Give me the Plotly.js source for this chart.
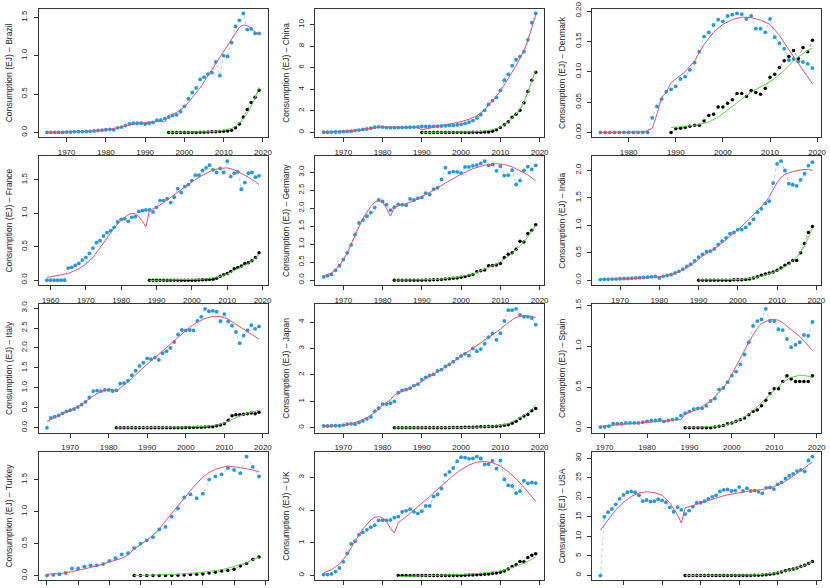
<!DOCTYPE html>
<html>
<head>
<meta charset="utf-8">
<script src="https://cdn.plot.ly/plotly-3.0.1.min.js"></script>
<style>
  html, body { margin: 0; padding: 0; background: #fff; }
  #myGraph { width: 830px; height: 588px; }
</style>
</head>
<body>
<div id="myGraph"></div>
<script>
// ---- data (EJ) ----
const countries = ["Brazil", "China", "Denmark", "France", "Germany", "India",
                   "Italy", "Japan", "Spain", "Turkey", "UK", "USA"];

// Brazil
const brazilBlueStart = 1965;
const brazilBlue = [0,0,0,0,0,0.005,0.005,0.008,0.01,0.01,
  0.012,0.015,0.02,0.025,0.03,0.035,0.04,0.035,0.06,0.07,
  0.09,0.11,0.12,0.12,0.12,0.11,0.12,0.13,0.16,0.16,
  0.18,0.20,0.22,0.23,0.27,0.34,0.44,0.52,0.58,0.69,
  0.72,0.76,0.78,0.92,0.74,1.00,0.99,1.17,1.38,1.46,
  1.55,1.34,1.35,1.29,1.29];
const brazilBlackStart = 1996;
const brazilBlack = [0,0,0,0,0,0,0,0,0.002,0.003,
  0.005,0.008,0.01,0.012,0.015,0.02,0.03,0.06,0.11,0.20,
  0.30,0.39,0.46,0.55];
const brazilRedYears = [1965,1970,1975,1978,1980,1982,1984,1986,1988,1990,1992,1995,1996,1998,2000,2002,2004,2006,2008,2010,2012,2013,2014,2015,2016,2017,2018,2019];
const brazilRed = [0,0.004,0.01,0.02,0.035,0.05,0.07,0.1,0.12,0.13,0.14,0.14,0.22,0.26,0.33,0.45,0.58,0.74,0.9,1.05,1.21,1.3,1.37,1.4,1.39,1.36,1.31,1.28];
const brazilGreenYears = [1996,2000,2004,2007,2009,2011,2012,2013,2014,2015,2016,2017,2018,2019];
const brazilGreen = [0,0.002,0.005,0.01,0.02,0.035,0.05,0.08,0.12,0.17,0.25,0.34,0.45,0.59];

// China
const chinaBlueStart = 1965;
const chinaBlue = [0.02,0.02,0.03,0.04,0.05,0.07,0.1,0.12,0.17,0.22,
  0.28,0.32,0.4,0.48,0.52,0.5,0.45,0.44,0.44,0.45,
  0.45,0.47,0.48,0.5,0.52,0.55,0.55,0.55,0.57,0.58,
  0.6,0.62,0.65,0.65,0.7,0.75,0.85,0.95,1.1,1.35,
  1.65,2.05,2.6,2.95,3.25,3.9,4.85,5.4,6.2,6.75,
  7.05,7.5,8.6,10.2,11.05];
const chinaBlackStart = 1990;
const chinaBlack = [0,0,0,0,0,0,0,0,0,0,
  0,0.005,0.005,0.01,0.01,0.02,0.03,0.05,0.1,0.25,
  0.45,0.72,1.0,1.4,1.7,2.05,2.75,3.8,4.85,5.6];
const chinaRedYears = [1965,1968,1970,1972,1975,1978,1980,1983,1986,1988,1989,1990,1991,1992,1994,1996,1998,2000,2002,2004,2006,2008,2009,2010,2011,2012,2013,2014,2015,2016,2017,2018,2019];
const chinaRed = [0.02,0.06,0.1,0.17,0.3,0.45,0.5,0.5,0.5,0.47,0.44,0.25,0.33,0.4,0.52,0.66,0.82,1.0,1.22,1.55,2.1,2.9,3.4,3.85,4.4,5.0,5.6,6.2,6.9,7.6,8.5,9.6,10.9];
const chinaGreenYears = [1990,1995,2000,2003,2005,2007,2008,2009,2010,2011,2012,2013,2014,2015,2016,2017,2018,2019];
const chinaGreen = [0,0,0.02,0.05,0.1,0.18,0.25,0.35,0.5,0.7,0.95,1.3,1.7,2.2,2.85,3.7,4.7,5.8];

// Denmark
const denmarkBlueStart = 1974;
const denmarkBlue = [0,0,0,0,0,0,0,0,0,0,0,
  0.024,0.043,0.055,0.067,0.071,0.076,0.088,0.092,0.103,0.115,
  0.133,0.158,0.165,0.177,0.186,0.183,0.192,0.194,0.196,0.195,
  0.187,0.192,0.171,0.171,0.165,0.187,0.157,0.147,0.138,0.119,
  0.121,0.117,0.116,0.113,0.106];
const denmarkBlackStart = 1989;
const denmarkBlack = [0.0,0.006,0.007,0.008,0.01,0.012,0.012,0.019,0.028,0.03,
  0.042,0.042,0.048,0.054,0.064,0.064,0.059,0.069,0.066,0.063,
  0.073,0.091,0.096,0.107,0.118,0.125,0.135,0.122,0.14,0.133,
  0.152];
const denmarkRedYears = [1974,1980,1983,1984,1985,1986,1987,1988,1989,1990,1992,1994,1996,1998,2000,2002,2004,2006,2008,2010,2012,2014,2016,2018,2019];
const denmarkRed = [0,0,0.001,0.003,0.007,0.03,0.058,0.066,0.082,0.088,0.1,0.118,0.145,0.165,0.178,0.186,0.19,0.189,0.185,0.178,0.16,0.136,0.113,0.092,0.08];
const denmarkGreenYears = [1989,1991,1993,1995,1997,1999,2001,2003,2005,2007,2009,2011,2013,2015,2017,2019];
const denmarkGreen = [0.008,0.009,0.011,0.013,0.017,0.025,0.037,0.05,0.061,0.071,0.079,0.089,0.102,0.118,0.13,0.139];

// France
const franceBlueStart = 1959;
const franceBlue = [0,0,0,0,0,0,
  0.18,0.19,0.22,0.25,0.30,0.34,0.40,0.48,0.56,0.59,
  0.66,0.71,0.74,0.79,0.87,0.91,0.92,0.88,0.94,0.95,
  1.03,1.04,1.05,1.05,1.02,1.09,1.19,1.19,1.22,1.16,
  1.24,1.37,1.31,1.40,1.43,1.49,1.57,1.57,1.64,1.68,
  1.72,1.65,1.61,1.67,1.61,1.78,1.55,1.60,1.62,1.36,
  1.46,1.60,1.61,1.54,1.56];
const franceBlackStart = 1988;
const franceBlack = [0,0,0,0,0,0,0,0,0,0,
  0,0,0,0,0.002,0.004,0.006,0.01,0.015,0.03,
  0.06,0.08,0.1,0.13,0.17,0.19,0.21,0.25,0.26,0.29,
  0.34,0.41];
const franceRedYears = [1959,1962,1965,1968,1970,1972,1974,1976,1978,1980,1982,1983,1984,1985,1986,1987,1988,1990,1992,1994,1996,1998,2000,2002,2004,2006,2008,2010,2012,2014,2016,2018,2019];
const franceRed = [0.04,0.07,0.1,0.17,0.24,0.34,0.48,0.63,0.78,0.9,0.98,1.0,0.99,0.95,0.88,0.8,1.04,1.09,1.16,1.24,1.32,1.39,1.47,1.54,1.6,1.65,1.67,1.68,1.65,1.6,1.54,1.47,1.43];
const franceGreenYears = [1988,1995,2000,2003,2005,2007,2008,2010,2012,2014,2016,2018,2019];
const franceGreen = [-0.005,0,0.005,0.015,0.025,0.04,0.055,0.09,0.14,0.19,0.25,0.33,0.38];

// Germany
const germanyBlueStart = 1965;
const germanyBlue = [0.09,0.12,0.16,0.27,0.40,0.57,0.76,0.98,1.27,1.59,
  1.67,1.78,1.88,2.02,2.23,2.19,2.10,1.95,2.03,2.11,
  2.10,2.08,2.26,2.23,2.28,2.30,2.42,2.38,2.53,2.57,
  2.80,3.13,2.99,3.02,3.01,2.98,3.15,3.15,3.18,3.20,
  3.25,3.31,3.19,3.22,3.04,3.17,2.91,2.92,3.06,2.66,
  2.77,3.05,3.16,3.08,3.19];
const germanyBlackStart = 1983;
const germanyBlack = [0,0,0,0,0,0,0,0,0.003,0.005,
  0.008,0.012,0.02,0.03,0.04,0.05,0.06,0.08,0.1,0.13,
  0.16,0.23,0.26,0.28,0.4,0.41,0.42,0.46,0.63,0.72,
  0.76,0.86,1.08,1.06,1.3,1.39,1.54];
const germanyRedYears = [1965,1967,1969,1971,1973,1975,1977,1978,1979,1980,1981,1982,1983,1985,1988,1990,1993,1996,2000,2003,2006,2009,2011,2013,2015,2017,2019];
const germanyRed = [0.12,0.2,0.4,0.75,1.25,1.72,2.05,2.17,2.22,2.17,2.0,1.78,2.03,2.1,2.2,2.33,2.5,2.7,2.95,3.1,3.2,3.24,3.22,3.15,3.05,2.93,2.76];
const germanyGreenYears = [1983,1987,1990,1993,1995,1997,2000,2003,2006,2009,2011,2013,2015,2017,2019];
const germanyGreen = [0,0,0.005,0.015,0.03,0.05,0.1,0.17,0.3,0.45,0.58,0.74,0.95,1.2,1.52];

// India
const indiaBlueStart = 1965;
const indiaBlue = [0.01,0.015,0.015,0.02,0.02,0.025,0.03,0.03,0.035,0.04,
  0.045,0.05,0.055,0.06,0.07,0.04,0.07,0.085,0.1,0.13,
  0.16,0.2,0.25,0.29,0.35,
  0.42,0.47,0.52,0.53,0.57,0.65,0.71,0.77,0.85,0.87,
  0.92,0.92,0.96,1.03,1.11,1.24,1.3,1.4,1.44,1.77,
  2.12,2.17,2.0,1.76,1.74,1.72,1.83,1.94,2.09,2.15];
const indiaBlackStart = 1990;
const indiaBlack = [0,0,0,0,0,0,0,0,0,0.005,
  0.005,0.008,0.01,0.02,0.04,0.06,0.09,0.11,0.13,0.15,
  0.18,0.22,0.27,0.31,0.36,0.36,0.5,0.67,0.87,0.98];
const indiaRedYears = [1965,1970,1975,1980,1983,1985,1987,1989,1990,1991,1993,1995,1997,1999,2001,2003,2005,2007,2008,2009,2010,2011,2012,2014,2016,2018,2019];
const indiaRed = [0.01,0.02,0.03,0.06,0.1,0.15,0.22,0.32,0.38,0.44,0.52,0.62,0.74,0.86,0.98,1.12,1.27,1.42,1.52,1.65,1.78,1.87,1.93,1.98,2.01,2.02,2.0];
const indiaGreenYears = [1990,1995,2000,2003,2006,2009,2011,2013,2015,2017,2019];
const indiaGreen = [0.005,0.005,0.01,0.03,0.07,0.14,0.2,0.29,0.42,0.62,0.95];

// Italy
const italyBlueStart = 1964;
const italyBlue = [0.0,0.25,0.28,0.31,0.36,0.41,0.44,0.47,0.52,0.58,
  0.65,0.76,0.92,0.93,0.92,0.95,0.95,0.92,0.94,1.11,
  1.12,1.18,1.32,1.43,1.55,1.63,1.74,1.72,1.76,1.70,
  1.87,1.92,2.0,2.15,2.34,2.45,2.44,2.45,2.44,2.68,
  2.78,2.98,2.92,2.93,2.91,2.67,2.85,2.67,2.56,2.40,
  2.12,2.31,2.44,2.57,2.48,2.54];
const italyBlackStart = 1982;
const italyBlack = [0,0,0,0,0,0,0,0,0,0,
  0,0,0,0,0,0,0.003,0.005,0.008,0.01,
  0.01,0.012,0.015,0.02,0.025,0.03,0.05,0.07,0.1,0.19,
  0.3,0.33,0.33,0.34,0.35,0.37,0.35,0.39];
const italyRedYears = [1964,1966,1968,1970,1972,1974,1976,1978,1980,1981,1982,1983,1985,1987,1989,1991,1993,1995,1997,1999,2001,2003,2005,2007,2009,2011,2013,2015,2017,2019];
const italyRed = [0.16,0.25,0.33,0.42,0.53,0.66,0.8,0.91,0.96,0.96,0.93,1.0,1.15,1.33,1.51,1.68,1.84,2.0,2.18,2.35,2.52,2.65,2.74,2.79,2.79,2.72,2.6,2.48,2.36,2.22];
const italyGreenYears = [1982,1990,1995,2000,2005,2008,2010,2012,2014,2016,2018,2019];
const italyGreen = [0,0.003,0.01,0.02,0.04,0.07,0.12,0.22,0.3,0.37,0.42,0.44];

// Japan
const japanBlueStart = 1965;
const japanBlue = [0.07,0.07,0.08,0.08,0.08,0.10,0.14,0.15,0.14,0.20,
  0.26,0.34,0.41,0.63,0.74,0.90,0.90,0.93,1.00,1.33,
  1.42,1.45,1.50,1.60,1.65,1.82,1.91,1.98,2.02,2.15,
  2.20,2.32,2.40,2.50,2.62,2.72,2.80,2.73,3.00,2.90,
  2.98,3.18,3.43,3.57,3.33,3.58,4.04,4.45,4.45,4.50,
  4.27,4.20,4.20,4.15,3.90];
const japanBlackStart = 1983;
const japanBlack = [0,0,0,0,0,0,0,0,0,0,
  0,0,0,0,0.005,0.01,0.01,0.015,0.02,0.02,
  0.025,0.03,0.04,0.04,0.05,0.05,0.06,0.07,0.1,0.12,
  0.17,0.25,0.35,0.45,0.5,0.65,0.73];
const japanRedYears = [1965,1968,1970,1972,1974,1976,1978,1980,1982,1983,1984,1986,1988,1990,1992,1994,1996,1998,2000,2002,2004,2006,2008,2010,2012,2014,2016,2018,2019];
const japanRed = [0.05,0.07,0.1,0.16,0.25,0.38,0.58,0.85,1.06,1.24,1.32,1.42,1.57,1.75,1.95,2.12,2.3,2.5,2.7,2.9,3.1,3.3,3.5,3.73,3.98,4.18,4.25,4.22,4.17];
const japanGreenYears = [1983,1995,2000,2005,2008,2010,2012,2014,2016,2018,2019];
const japanGreen = [0,0,0.01,0.03,0.06,0.09,0.16,0.3,0.48,0.7,0.88];

// Spain
const spainBlueStart = 1969;
const spainBlue = [0.01,0.01,0.02,0.05,0.05,0.05,0.06,0.06,0.06,0.06,
  0.07,0.08,0.09,0.09,0.10,0.08,0.09,0.10,0.11,0.15,
  0.18,0.20,0.23,0.24,0.24,0.27,0.33,0.36,0.47,0.49,
  0.56,0.64,0.69,0.78,0.90,1.05,1.25,1.31,1.33,1.46,
  1.31,1.31,1.21,1.20,1.09,0.99,1.02,1.05,1.14,1.13,
  1.30];
const spainBlackStart = 1989;
const spainBlack = [0,0,0,0,0,0,0,0.01,0.02,0.03,
  0.05,0.06,0.08,0.1,0.12,0.16,0.2,0.22,0.27,0.34,
  0.42,0.48,0.48,0.57,0.64,0.6,0.57,0.57,0.57,0.57,
  0.64];
const spainRedYears = [1969,1972,1975,1978,1981,1984,1986,1988,1989,1990,1991,1992,1993,1994,1995,1996,1997,1998,1999,2000,2001,2002,2003,2004,2005,2006,2007,2008,2009,2010,2011,2012,2013,2014,2015,2016,2017,2018,2019];
const spainRed = [0.02,0.035,0.05,0.06,0.07,0.085,0.095,0.105,0.17,0.19,0.21,0.23,0.26,0.29,0.33,0.38,0.43,0.49,0.56,0.66,0.76,0.86,0.96,1.05,1.14,1.22,1.28,1.31,1.33,1.33,1.32,1.29,1.25,1.21,1.17,1.12,1.07,1.01,0.95];
const spainGreenYears = [1989,1993,1996,1998,2000,2002,2004,2006,2008,2010,2012,2014,2016,2017,2018,2019];
const spainGreen = [0.005,0.008,0.015,0.03,0.06,0.1,0.17,0.26,0.36,0.47,0.56,0.62,0.645,0.645,0.635,0.62];

// Turkey
const turkeyBlueStart = 1985;
const turkeyBlue = [0.0,0.01,0.02,0.04,0.11,0.11,0.14,0.16,0.16,0.18,
  0.23,0.27,0.33,0.35,0.43,0.50,0.55,0.60,0.72,0.76,
  0.92,1.05,1.22,1.27,1.21,1.28,1.50,1.55,1.58,1.68,
  1.65,1.60,1.86,1.70,1.55];
const turkeyBlackStart = 1999;
const turkeyBlack = [0,0,0,0,0,0,0,0.005,0.01,0.015,
  0.02,0.025,0.04,0.05,0.07,0.08,0.1,0.15,0.19,0.25,
  0.29];
const turkeyRedYears = [1985,1987,1989,1991,1993,1995,1997,1998,1999,2000,2001,2002,2003,2004,2005,2006,2007,2008,2009,2010,2011,2012,2013,2014,2015,2016,2017,2018,2019];
const turkeyRed = [0.02,0.03,0.06,0.1,0.15,0.21,0.27,0.32,0.42,0.48,0.55,0.63,0.73,0.85,0.97,1.1,1.22,1.33,1.44,1.54,1.61,1.66,1.69,1.71,1.7,1.69,1.67,1.65,1.62];
const turkeyGreenYears = [1999,2003,2006,2009,2011,2013,2015,2017,2019];
const turkeyGreen = [0,0.01,0.02,0.04,0.06,0.09,0.14,0.2,0.29];

// UK
const ukBlueStart = 1965;
const ukBlue = [0.03,0.03,0.05,0.12,0.23,0.42,0.68,0.97,1.05,1.25,
  1.32,1.40,1.48,1.54,1.69,1.69,1.69,1.70,1.77,1.80,
  1.95,1.98,2.03,1.95,1.90,1.97,2.13,2.13,2.42,2.48,
  2.66,3.08,3.17,3.29,3.50,3.62,3.61,3.57,3.58,3.64,
  3.58,3.40,3.41,3.51,3.27,3.52,2.94,2.76,2.74,2.52,
  2.58,2.90,2.82,2.85,2.83];
const ukBlackStart = 1984;
const ukBlack = [0,0,0,0,0,0,0,0,0,0,
  0,0,0,0,0,0,0.005,0.01,0.015,0.02,
  0.025,0.03,0.04,0.05,0.06,0.08,0.1,0.14,0.2,0.28,
  0.33,0.43,0.42,0.55,0.62,0.67];
const ukRedYears = [1965,1967,1969,1971,1973,1975,1977,1978,1979,1980,1981,1982,1983,1984,1986,1988,1990,1992,1994,1996,1998,2000,2002,2004,2006,2008,2010,2012,2014,2016,2018,2019];
const ukRed = [0.08,0.18,0.35,0.65,1.05,1.43,1.7,1.78,1.8,1.77,1.65,1.45,1.3,1.62,1.8,2.0,2.2,2.42,2.64,2.86,3.06,3.24,3.38,3.47,3.49,3.45,3.35,3.18,2.96,2.7,2.42,2.27];
const ukGreenYears = [1984,1990,1995,2000,2005,2008,2010,2012,2014,2016,2018,2019];
const ukGreen = [-0.03,-0.01,0,0.03,0.07,0.1,0.14,0.2,0.28,0.38,0.5,0.57];

// USA
const usaBlueStart = 1964;
const usaBlue = [0.0,15.0,16.2,17.0,18.2,19.6,20.6,21.3,21.5,21.3,
  20.5,19.0,19.3,18.9,19.0,19.5,19.2,18.7,17.4,16.3,
  17.5,16.8,15.7,16.6,17.6,18.6,18.6,19.0,19.6,20.1,
  20.5,21.5,21.9,22.0,21.6,21.7,22.6,21.6,22.3,21.6,
  21.7,21.4,21.0,22.4,22.5,22.1,23.3,23.8,24.8,25.5,
  26.0,26.7,27.0,26.6,29.4,30.4];
const usaBlackStart = 1986;
const usaBlack = [0,0,0,0,0,0,0,0,0,0,
  0,0,0,0,0.005,0.01,0.02,0.03,0.05,0.08,
  0.12,0.2,0.3,0.45,0.65,0.9,1.2,1.45,1.7,1.95,
  2.3,2.65,3.1,3.6];
const usaRedYears = [1964,1966,1968,1970,1972,1974,1976,1978,1980,1982,1984,1985,1986,1988,1990,1992,1994,1996,1998,2000,2002,2004,2006,2008,2010,2012,2014,2016,2018,2019];
const usaRed = [11.6,14.3,16.8,18.7,20.2,21.1,21.4,21.2,20.5,18.6,15.5,13.4,17.3,17.9,18.5,19.2,19.8,20.4,20.8,21.2,21.5,21.8,22.0,22.4,23.1,24.1,25.4,26.8,28.3,29.0];
const usaGreenYears = [1986,1995,2000,2004,2006,2008,2010,2012,2014,2016,2018,2019];
const usaGreen = [0,0.02,0.05,0.15,0.3,0.45,0.75,1.15,1.6,2.2,3.0,3.6];

// tick labels
const decadeTicks = [1960,1970,1980,1990,2000,2010,2020];
const turkeyXTicks = [1985,1990,1995,2000,2005,2010,2015,2020];
const yTicksBrazil = [0,0.5,1.0,1.5];
const yTicksChina = [0,2,4,6,8,10];
const yTicksDenmark = [0,0.05,0.10,0.15,0.20];
const yTicksFrance = [0,0.5,1.0,1.5];
const yTicksGermany = [0,0.5,1.0,1.5,2.0,2.5,3.0];
const yTicksIndia = [0,0.5,1.0,1.5,2.0];
const yTicksItaly = [0,0.5,1.0,1.5,2.0,2.5,3.0];
const yTicksJapan = [0,1,2,3,4];
const yTicksSpain = [0,0.5,1.0,1.5];
const yTicksTurkey = [0,0.5,1.0,1.5];
const yTicksUK = [0,1,2,3];
const yTicksUSA = [0,5,10,15,20,25,30];

// panel table, built from the arrays above
let panels = [
  [brazilBlueStart, brazilBlue, brazilBlackStart, brazilBlack, brazilRedYears, brazilRed, brazilGreenYears, brazilGreen, decadeTicks, yTicksBrazil, 1],
  [chinaBlueStart, chinaBlue, chinaBlackStart, chinaBlack, chinaRedYears, chinaRed, chinaGreenYears, chinaGreen, decadeTicks, yTicksChina, 0],
  [denmarkBlueStart, denmarkBlue, denmarkBlackStart, denmarkBlack, denmarkRedYears, denmarkRed, denmarkGreenYears, denmarkGreen, decadeTicks, yTicksDenmark, 2],
  [franceBlueStart, franceBlue, franceBlackStart, franceBlack, franceRedYears, franceRed, franceGreenYears, franceGreen, decadeTicks, yTicksFrance, 1],
  [germanyBlueStart, germanyBlue, germanyBlackStart, germanyBlack, germanyRedYears, germanyRed, germanyGreenYears, germanyGreen, decadeTicks, yTicksGermany, 1],
  [indiaBlueStart, indiaBlue, indiaBlackStart, indiaBlack, indiaRedYears, indiaRed, indiaGreenYears, indiaGreen, decadeTicks, yTicksIndia, 1],
  [italyBlueStart, italyBlue, italyBlackStart, italyBlack, italyRedYears, italyRed, italyGreenYears, italyGreen, decadeTicks, yTicksItaly, 1],
  [japanBlueStart, japanBlue, japanBlackStart, japanBlack, japanRedYears, japanRed, japanGreenYears, japanGreen, decadeTicks, yTicksJapan, 0],
  [spainBlueStart, spainBlue, spainBlackStart, spainBlack, spainRedYears, spainRed, spainGreenYears, spainGreen, decadeTicks, yTicksSpain, 1],
  [turkeyBlueStart, turkeyBlue, turkeyBlackStart, turkeyBlack, turkeyRedYears, turkeyRed, turkeyGreenYears, turkeyGreen, turkeyXTicks, yTicksTurkey, 1],
  [ukBlueStart, ukBlue, ukBlackStart, ukBlack, ukRedYears, ukRed, ukGreenYears, ukGreen, decadeTicks, yTicksUK, 0],
  [usaBlueStart, usaBlue, usaBlackStart, usaBlack, usaRedYears, usaRed, usaGreenYears, usaGreen, decadeTicks, yTicksUSA, 0],
];

let myGraph = document.getElementById('myGraph');
let data = [];
let layout = {
  width: 830,
  height: 588,
  margin: { l: 0, r: 0, t: 0, b: 0 },
  paper_bgcolor: "#ffffff",
  plot_bgcolor: "#ffffff",
  showlegend: false,
  font: { family: "Liberation Sans, Arial, sans-serif", size: 8, color: "#222" },
};

// grid geometry (px)
const W = 830, H = 588;
const colLeft = 38.5, colStep = 276.7, boxW = 229;
const rowTop = 8.7, rowStep = 147.7, boxH = 128.5;

function yearsFrom(start, n) {
  let out = [];
  for (let i = 0; i < n; i++) out.push(start + i);
  return out;
}
function pad(lo, hi) {
  let s = hi - lo;
  return [lo - 0.04 * s, hi + 0.04 * s];
}

panels.forEach((p, i) => {
  let [bStart, blue, kStart, black, rYears, red, gYears, green, xTicks, yTicks, dec] = p;
  let k = i === 0 ? "" : String(i + 1);
  let xa = "x" + k, ya = "y" + k;
  let blueYears = yearsFrom(bStart, blue.length);
  let blackYears = yearsFrom(kStart, black.length);

  data.push({
    type: "scatter", mode: "lines+markers", x: blueYears, y: blue, xaxis: xa, yaxis: ya,
    line: { color: "#a8d2f2", width: 1, dash: "dot" },
    marker: { color: "#2297E6", size: 3.8 },
    hoverinfo: "skip",
  });
  data.push({
    type: "scatter", mode: "lines+markers", x: blackYears, y: black, xaxis: xa, yaxis: ya,
    line: { color: "#a0a0a0", width: 1, dash: "dot" },
    marker: { color: "#000000", size: 3.5 },
    hoverinfo: "skip",
  });
  data.push({
    type: "scatter", mode: "lines", x: rYears, y: red, xaxis: xa, yaxis: ya,
    line: { color: "#DF536B", width: 1 }, hoverinfo: "skip",
  });
  data.push({
    type: "scatter", mode: "lines", x: gYears, y: green, xaxis: xa, yaxis: ya,
    line: { color: "#61D04F", width: 1 }, hoverinfo: "skip",
  });

  let r = Math.floor(i / 3), c = i % 3;
  let x0 = colLeft + c * colStep, y0 = rowTop + r * rowStep;
  let allY = blue.concat(black);

  layout["xaxis" + k] = {
    domain: [x0 / W, (x0 + boxW) / W],
    anchor: ya,
    range: pad(Math.min(...blueYears), Math.max(...blueYears)),
    tickmode: "array",
    tickvals: xTicks,
    ticktext: xTicks.map(String),
    // bottom row labels fall below the picture edge in the reference
    showticklabels: r < 3,
    ticks: "outside", ticklen: 4, tickwidth: 1, tickcolor: "#333",
    ticklabelstandoff: 3,
    showline: true, mirror: true, linecolor: "#333", linewidth: 1,
    showgrid: false, zeroline: false,
    tickfont: { size: 8, color: "#222" },
  };
  layout["yaxis" + k] = {
    domain: [1 - (y0 + boxH) / H, 1 - y0 / H],
    anchor: xa,
    range: pad(Math.min(...allY), Math.max(...allY)),
    tickmode: "array",
    tickvals: yTicks,
    ticktext: yTicks.map(v => v.toFixed(dec)),
    tickangle: -90,
    ticks: "outside", ticklen: 4, tickwidth: 1, tickcolor: "#333",
    ticklabelstandoff: 3,
    showline: true, mirror: true, linecolor: "#333", linewidth: 1,
    showgrid: false, zeroline: false,
    tickfont: { size: 8, color: "#222" },
    title: {
      text: "Consumption (EJ) \u2013 " + countries[i],
      font: { size: 8.5, color: "#222" },
      standoff: 6,
    },
  };
});

Plotly.newPlot(myGraph, data, layout, { staticPlot: true, displayModeBar: false });
</script>
</body>
</html>
